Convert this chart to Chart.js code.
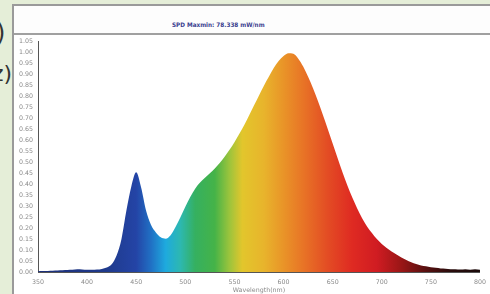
<!DOCTYPE html>
<html>
<head>
<meta charset="utf-8">
<script src="https://cdn.jsdelivr.net/npm/chart.js@4/dist/chart.umd.min.js"></script>
<style>
  html, body { margin: 0; padding: 0; }
  body { width: 490px; height: 294px; background: #e5eed8; position: relative; overflow: hidden; font-family: "DejaVu Sans", sans-serif; }
  #panel { position: absolute; left: 12px; top: 4px; width: 478px; height: 292px; background: #fff; border-left: 2px solid #9a9a9a; border-top: 2px solid #9a9a9a; }
  #titlebar { position: absolute; left: 14px; top: 6px; width: 476px; height: 27px; background: #fdfdfd; border-bottom: 2px solid #a0a0a0; }
  #title { position: absolute; left: 158px; top: 15px; font: bold 6.2px "DejaVu Sans", sans-serif; color: #3b3f8f; white-space: nowrap; transform: scaleX(0.92); transform-origin: left center; }
  #wrap { position: absolute; left: 13px; top: 36px; width: 477px; height: 258px; }
  .cut { position: absolute; color: #333; font-family: "DejaVu Sans", sans-serif; }
</style>
</head>
<body>
<div class="cut" style="left:-4px; top:19px; font-size:24px;">)</div>
<div class="cut" style="left:-8px; top:61px; font-size:22px;">z)</div>
<div id="panel"></div>
<div id="titlebar"><div id="title">SPD Maxmin: 78.338 mW/nm</div></div>
<div id="wrap"><canvas id="spd"></canvas></div>
<script>
// wavelength samples (nm) and relative spectral power
var wavelengths = [350,355,360,365,370,375,380,385,390,395,400,405,410,415,420,425,430,435,440,445,
  450,455,460,465,470,475,480,485,490,495,500,505,510,515,520,525,530,535,540,545,
  550,555,560,565,570,575,580,585,590,595,600,605,610,615,620,625,630,635,640,645,
  650,655,660,665,670,675,680,685,690,695,700,705,710,715,720,725,730,735,740,745,
  750,755,760,765,770,775,780,785,790,795,800];
var power = [0.003,0.004,0.005,0.006,0.007,0.008,0.009,0.010,0.012,0.011,0.010,0.010,0.011,0.014,0.020,0.035,0.075,0.150,0.280,0.390,
  0.455,0.385,0.280,0.215,0.180,0.158,0.152,0.168,0.205,0.250,0.298,0.342,0.380,0.408,0.430,0.450,0.472,0.497,0.526,0.557,
  0.592,0.630,0.670,0.715,0.760,0.805,0.850,0.890,0.930,0.962,0.985,0.998,0.995,0.973,0.937,0.890,0.838,0.780,0.717,0.652,
  0.586,0.520,0.455,0.395,0.340,0.290,0.245,0.208,0.178,0.150,0.128,0.110,0.094,0.080,0.066,0.055,0.045,0.037,0.030,0.026,
  0.022,0.019,0.016,0.015,0.013,0.012,0.011,0.013,0.010,0.012,0.010];
var xTicks = [350,400,450,500,550,600,650,700,750,800];

// colour of the fill along the spectrum
var spectrum = [
  [350,'#1c2f78'],[420,'#1f3a8c'],[450,'#2444a6'],[465,'#2070c4'],[480,'#1eaade'],
  [495,'#2db8b0'],[510,'#35b060'],[530,'#45b348'],[545,'#9cc43c'],[558,'#e2c62c'],
  [580,'#e8b42c'],[600,'#e99428'],[620,'#e87426'],[645,'#e34c24'],[670,'#df2a22'],
  [695,'#d01c22'],[720,'#9a1616'],[745,'#581010'],[770,'#2a0c0c'],[800,'#1a0a0a']];

var points = [];
for (var i in wavelengths) points.push({x: wavelengths[i], y: power[i]});

function fillGradient(c) {
  var chart = c.chart;
  if (!chart.chartArea) return '#e99428';
  var sx = chart.scales.x;
  var x0 = sx.getPixelForValue(350), x1 = sx.getPixelForValue(800);
  var g = chart.ctx.createLinearGradient(x0, 0, x1, 0);
  spectrum.forEach(function(s) { g.addColorStop((s[0] - 350) / 450, s[1]); });
  return g;
}

var tickFont = { size: 6.3, family: 'Verdana, "DejaVu Sans", sans-serif' };

new Chart(document.getElementById('spd'), {
  type: 'line',
  data: {
    datasets: [{
      data: points,
      fill: 'origin',
      backgroundColor: fillGradient,
      borderWidth: 0,
      pointRadius: 0,
      cubicInterpolationMode: 'monotone'
    }]
  },
  options: {
    responsive: true,
    maintainAspectRatio: false,
    animation: false,
    layout: { padding: { top: 2, right: 9, left: 0, bottom: 0 } },
    plugins: { legend: { display: false }, tooltip: { enabled: false } },
    scales: {
      x: {
        type: 'linear', min: 350, max: 800,
        afterBuildTicks: function(s) { s.ticks = xTicks.map(function(v) { return {value: v}; }); },
        afterFit: function(s) { s.height = 22; },
        grid: { display: false, drawTicks: true, tickLength: 3, color: '#777' },
        border: { color: '#555', width: 1 },
        ticks: { color: '#8a8a8a', font: tickFont, padding: 4, maxRotation: 0 },
        title: { display: true, text: 'Wavelength(nm)', color: '#8a8a8a', font: tickFont, padding: { top: 0, bottom: 0 } }
      },
      y: {
        min: 0, max: 1.05,
        afterFit: function(s) { s.width = 25; },
        grid: { display: false, tickLength: 3 },
        border: { color: '#555', width: 1 },
        ticks: { stepSize: 0.05, color: '#8a8a8a', font: tickFont, padding: 2,
          callback: function(v) { return v.toFixed(2); } }
      }
    }
  }
});
</script>
</body>
</html>
